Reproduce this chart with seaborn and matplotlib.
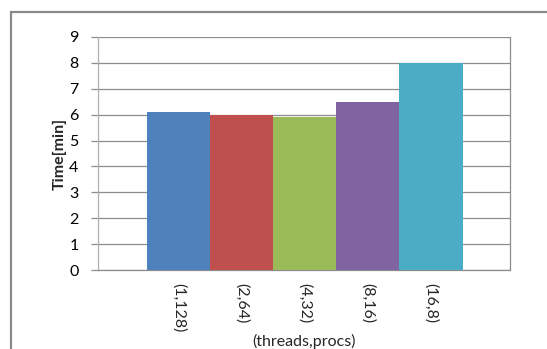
import matplotlib
matplotlib.use("Agg")
import matplotlib.pyplot as plt
from matplotlib.patches import Rectangle
import seaborn as sns
import pandas as pd

# Run time for each (threads, procs) configuration
configs = ["(1,128)", "(2,64)", "(4,32)", "(8,16)", "(16,8)"]
times = [6.1, 6.0, 5.9, 6.5, 8.0]
colors = ["#4F81BD", "#C0504D", "#9BBB59", "#8064A2", "#4BACC6"]
yticks = [0, 1, 2, 3, 4, 5, 6, 7, 8, 9]

sns.set_style("white")
plt.rcParams["font.family"] = ["Lato", "DejaVu Sans"]

df = pd.DataFrame({"config": configs, "time": times})

fig = plt.figure(figsize=(5.47, 3.49), dpi=100)
ax = fig.add_axes([98 / 547, 1 - 270 / 349, 412 / 547, 233 / 349])

sns.barplot(data=df, x="config", y="time", hue="config", palette=colors,
            width=1.0, dodge=False, legend=False, ax=ax, saturation=1,
            zorder=3)
for p in ax.patches:
    p.set_edgecolor("none")

grid_c = "#8C8C8C"
ax.set_ylim(0, 9)
ax.set_xlim(-1.27, 5.25)
ax.set_yticks(yticks)
ax.set_yticklabels([str(v) for v in yticks], fontsize=11.5)
ax.yaxis.grid(True, color=grid_c, linewidth=0.9, zorder=0)
ax.set_axisbelow(True)
ax.tick_params(axis="y", which="major", left=True, length=5, width=0.9,
               color=grid_c, pad=9, labelcolor="black")
ax.tick_params(axis="x", bottom=False, pad=6)
ax.set_xticks(range(len(configs)))
ax.set_xticklabels(configs, rotation=-90, fontsize=11.5, va="top", ha="center")
for spine in ax.spines.values():
    spine.set_color(grid_c)
    spine.set_linewidth(0.9)
ax.spines["left"].set_color("#B0B0B0")
ax.spines["top"].set_visible(False)
ax.set_ylabel("Time[min]", fontsize=11.5, fontweight="bold", va="center")
ax.yaxis.set_label_coords(-38 / 412, 0.5)
ax.set_xlabel("(threads,procs)", fontsize=11.5, va="center")
ax.xaxis.set_label_coords(0.5, -71 / 233)

# Chart frame, open to the right and bottom
fig.patches.append(Rectangle((10.5 / 547, -0.1), 1.2, 1 - 12.5 / 349 + 0.1,
                             transform=fig.transFigure, fill=False,
                             edgecolor="#8A8A8A", linewidth=1.6))

fig.savefig("out.png", dpi=100)
